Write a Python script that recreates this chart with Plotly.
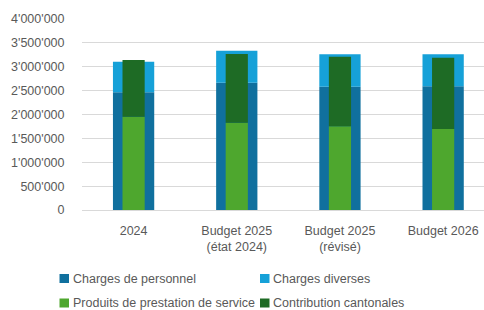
import plotly.graph_objects as go

categories = ["2024", "Budget 2025<br>(état 2024)", "Budget 2025<br>(révisé)", "Budget 2026"]
charges_personnel = [2465000, 2666000, 2583000, 2590000]
charges_diverses = [641000, 670000, 677000, 670000]
produits_prestation = [1954000, 1829000, 1752000, 1696000]
contribution_cantonale = [1187000, 1438000, 1459000, 1494000]
y_ticks = [0, 500000, 1000000, 1500000, 2000000, 2500000, 3000000, 3500000, 4000000]
series_names = ["Charges de personnel", "Charges diverses",
                "Produits de prestation de service", "Contribution cantonales"]

C_PERS = "#10709E"
C_DIV = "#16A1D8"
C_PROD = "#4EA72E"
C_CONT = "#1E6B25"
colors = [C_PERS, C_DIV, C_PROD, C_CONT]

W, H = 484, 310
ML, MR, MT, MB = 82, 0, 19, 100

fig = go.Figure()
fig.add_trace(go.Bar(x=categories, y=charges_personnel, base=[0]*4, width=0.4,
                     marker=dict(color=C_PERS, line=dict(width=0)), name=series_names[0]))
fig.add_trace(go.Bar(x=categories, y=charges_diverses, base=charges_personnel, width=0.4,
                     marker=dict(color=C_DIV, line=dict(width=0)), name=series_names[1]))
fig.add_trace(go.Bar(x=categories, y=produits_prestation, base=[0]*4, width=0.215,
                     marker=dict(color=C_PROD, line=dict(width=0)), name=series_names[2]))
fig.add_trace(go.Bar(x=categories, y=contribution_cantonale, base=produits_prestation, width=0.215,
                     marker=dict(color=C_CONT, line=dict(width=0)), name=series_names[3]))

# Legend drawn in pixel positions converted to paper coordinates
pw, ph = W - ML - MR, H - MT - MB
def px(x):
    return (x - ML) / pw
def py(y):
    return (H - MB - y) / ph

legend_pos = [(59.5, 278.5), (260, 278.5), (59.5, 303), (260, 303)]
shapes = []
annotations = []
for (lx, ly), name, col in zip(legend_pos, series_names, colors):
    shapes.append(dict(type="rect", xref="paper", yref="paper",
                       x0=px(lx), x1=px(lx + 9.5), y0=py(ly - 4.5), y1=py(ly + 4.5),
                       fillcolor=col, line=dict(width=0)))
    annotations.append(dict(xref="paper", yref="paper", x=px(lx + 11), y=py(ly),
                            xanchor="left", yanchor="middle", showarrow=False, text=name,
                            font=dict(size=12.5, color="#595959")))

fig.update_layout(
    width=W, height=H,
    barmode="overlay",
    separators=".'",
    paper_bgcolor="white", plot_bgcolor="white",
    margin=dict(l=ML, r=MR, t=MT, b=MB, autoexpand=False),
    font=dict(family="Liberation Sans, Arial, sans-serif", size=12.5, color="#595959"),
    showlegend=False,
    shapes=shapes,
    annotations=annotations,
)
fig.update_xaxes(range=[-0.5, 3.396], showgrid=False, showline=False, zeroline=False,
                 tickfont=dict(size=12.5, color="#595959"), ticks="outside", ticklen=9,
                 tickcolor="rgba(0,0,0,0)", automargin=False)
fig.update_yaxes(range=[0, 4000000], tickvals=y_ticks, tickformat=",d",
                 showgrid=True, gridcolor="#D9D9D9", gridwidth=1, zeroline=True,
                 zerolinecolor="#D9D9D9", zerolinewidth=1, showline=False,
                 ticks="outside", ticklen=14, tickcolor="rgba(0,0,0,0)",
                 tickfont=dict(size=12.5, color="#595959"), automargin=False)

fig.write_html("out.html", config={"displayModeBar": False},
               post_script="document.body.style.margin='0';document.body.style.overflow='hidden';")
